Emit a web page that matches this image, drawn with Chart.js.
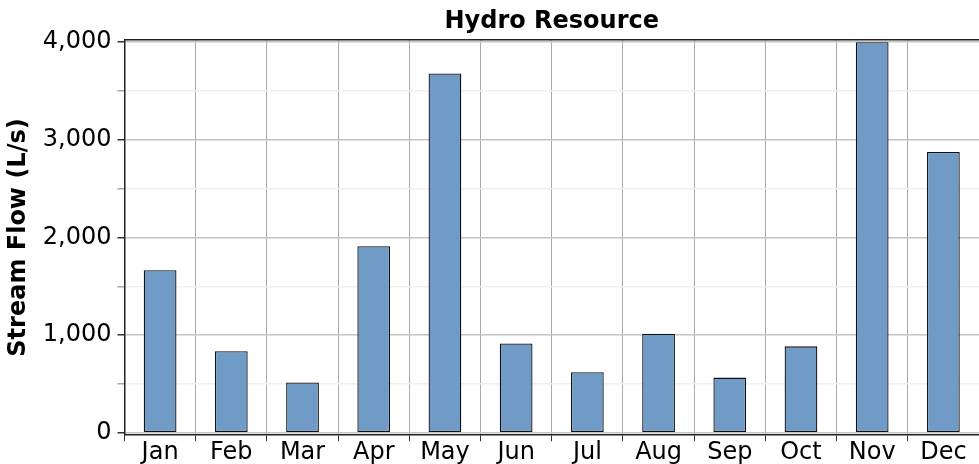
<!DOCTYPE html>
<html>
<head>
<meta charset="utf-8">
<title>Hydro Resource</title>
<script src="https://cdn.jsdelivr.net/npm/chart.js@4.4.1/dist/chart.umd.min.js"></script>
<style>
  html, body { margin: 0; padding: 0; background: #fff; }
  #wrap { width: 979px; height: 464px; position: relative; }
</style>
</head>
<body>
<div id="wrap"><canvas id="myChart"></canvas></div>
<script>
'use strict';

let months = ['Jan', 'Feb', 'Mar', 'Apr', 'May', 'Jun', 'Jul', 'Aug', 'Sep', 'Oct', 'Nov', 'Dec'];
let streamFlow = [1665, 835, 515, 1910, 3680, 915, 620, 1015, 565, 885, 4000, 2875];
let yTicks = [0, 500, 1000, 1500, 2000, 2500, 3000, 3500, 4000];

let fontName = "'DejaVu Sans', sans-serif";

function isMajor(v) {
    return v % 1000 === 0;
}

let ctx = document.getElementById('myChart').getContext('2d');

let myChart = new Chart(ctx, {
    type: 'bar',
    data: {
        labels: months,
        datasets: [{
            label: 'Stream Flow',
            data: streamFlow,
            backgroundColor: '#6f9bc6',
            borderColor: '#111',
            borderWidth: 1.3,
            borderSkipped: false,
            barPercentage: 0.46,
            categoryPercentage: 1
        }]
    },
    options: {
        responsive: true,
        maintainAspectRatio: false,
        animation: false,
        layout: {
            padding: { left: 1, right: 0, top: 0, bottom: 0 }
        },
        plugins: {
            legend: { display: false },
            tooltip: { enabled: false },
            title: { display: false }
        },
        scales: {
            x: {
                position: 'bottom',
                offset: true,
                grid: {
                    offset: true,
                    color: '#aaaaaa',
                    lineWidth: 1,
                    tickColor: '#333',
                    tickLength: 6
                },
                border: { display: true, color: '#222', width: 1.5 },
                ticks: {
                    color: '#000',
                    padding: 0,
                    maxRotation: 0,
                    autoSkip: false,
                    font: { family: fontName, size: 24, lineHeight: 0.95 }
                }
            },
            // top axis only carries the chart title and the top border line
            x2: {
                position: 'top',
                grid: { display: false, drawTicks: false },
                border: { display: true, color: '#222', width: 1.5 },
                ticks: { display: false },
                title: {
                    display: true,
                    text: 'Hydro Resource',
                    color: '#000',
                    font: { family: fontName, size: 24, weight: 'bold', lineHeight: 1.2 },
                    padding: { top: 7, bottom: 4 }
                }
            },
            y: {
                min: -25,
                max: 4025,
                afterBuildTicks: function (axis) {
                    axis.ticks = yTicks.map(function (v) { return { value: v }; });
                },
                grid: {
                    color: function (c) {
                        return c.tick && isMajor(c.tick.value) ? '#c4c4c4' : '#f0f0f0';
                    },
                    lineWidth: 1.5,
                    tickColor: function (c) {
                        return c.tick && isMajor(c.tick.value) ? '#333' : 'rgba(0,0,0,0.35)';
                    },
                    tickLength: 7
                },
                border: { display: true, color: '#222', width: 1.5 },
                ticks: {
                    color: '#000',
                    padding: 6,
                    font: { family: fontName, size: 24 },
                    callback: function (v) {
                        return isMajor(v) ? v.toLocaleString('en-US') : '';
                    }
                },
                title: {
                    display: true,
                    text: 'Stream Flow (L/s)',
                    color: '#000',
                    font: { family: fontName, size: 24, weight: 'bold', lineHeight: 1.2 },
                    padding: { top: 3, bottom: 4 }
                }
            }
        }
    }
});
</script>
</body>
</html>
